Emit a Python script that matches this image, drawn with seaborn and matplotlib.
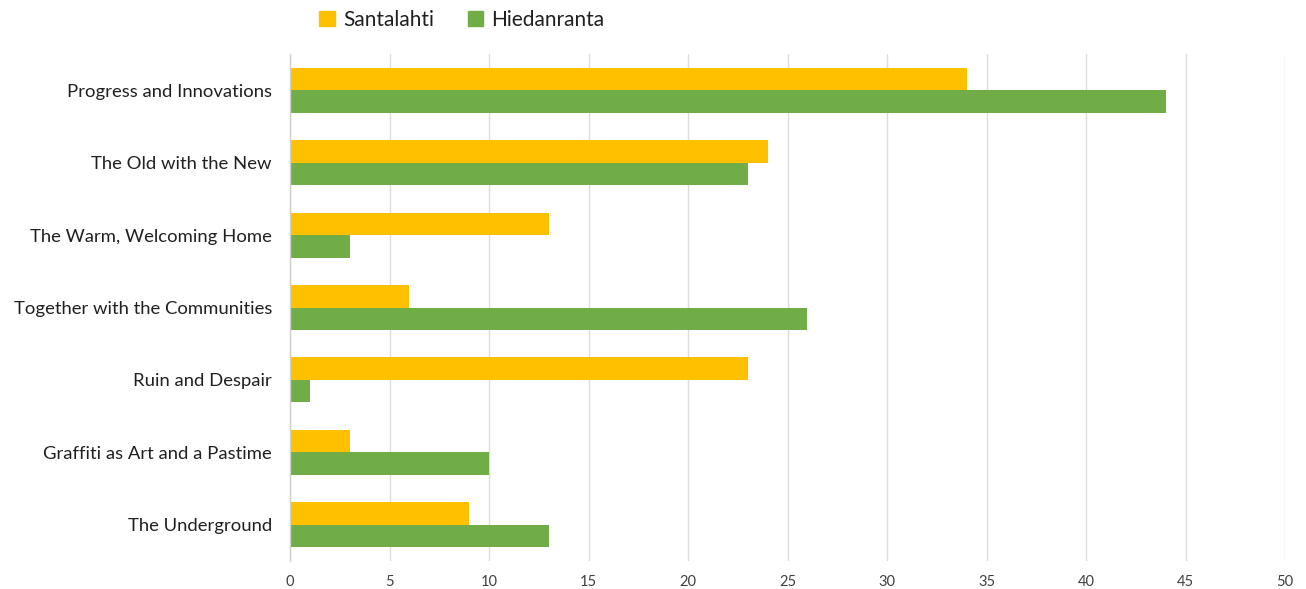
import matplotlib
matplotlib.use("Agg")
import matplotlib.pyplot as plt
import matplotlib.patches as mpatches
from matplotlib.ticker import FixedLocator
import seaborn as sns
import pandas as pd
import numpy as np

categories = ["Progress and Innovations", "The Old with the New", "The Warm, Welcoming Home",
              "Together with the Communities", "Ruin and Despair", "Graffiti as Art and a Pastime",
              "The Underground"]
santalahti = [34, 24, 13, 6, 23, 3, 9]
hiedanranta = [44, 23, 3, 26, 1, 10, 13]
series = ["Santalahti", "Hiedanranta"]
colors = ["#FFC000", "#70AD47"]
xticks = [0, 5, 10, 15, 20, 25, 30, 35, 40, 45, 50]

df = pd.DataFrame({
    "category": categories * 2,
    "value": santalahti + hiedanranta,
    "series": [series[0]] * len(categories) + [series[1]] * len(categories),
})

sns.set_theme(style="white")
plt.rcParams['font.family'] = ['Lato', 'DejaVu Sans']

fig = plt.figure(figsize=(13.06, 5.89), dpi=100)
ax = fig.add_axes([290/1306, 1 - 561/589, (1285-290)/1306, (561-54)/589])

sns.barplot(data=df, y="category", x="value", hue="series", order=categories,
            hue_order=series, palette=colors, orient="h", width=0.62, gap=0,
            saturation=1, ax=ax, legend=False, errorbar=None, linewidth=0)

ax.set_xlim(0, 50)
ax.set_ylim(len(categories) - 0.5, -0.5)
ax.set_xticks(xticks)
ax.set_xticklabels([str(t) for t in xticks], fontsize=10.5, color="#404040")
ax.set_yticks(range(len(categories)))
ax.set_yticklabels(categories, fontsize=13.3, color="#202020")
ax.set_xlabel("")
ax.set_ylabel("")
ax.grid(axis="x", color="#dcdcdc", linewidth=1.0)
ax.set_axisbelow(True)
for s in ["top", "right", "bottom"]:
    ax.spines[s].set_visible(False)
ax.spines["left"].set_color("#d0d0d0")
ax.spines["left"].set_linewidth(1.0)
ax.tick_params(axis="x", length=0, pad=10)
ax.tick_params(axis="y", which="major", length=0, pad=13)
ax.yaxis.set_minor_locator(FixedLocator(np.arange(-0.5, len(categories), 1.0)))
ax.tick_params(axis="y", which="minor", length=6, color="#d0d0d0", width=1.0, direction="out")

handles = [mpatches.Patch(color=c, label=s) for c, s in zip(colors, series)]
fig.legend(handles=handles, loc="center", bbox_to_anchor=(462/1306, 1 - 20/589), ncol=2,
           frameon=False, fontsize=15, handlelength=0.75, handleheight=0.75,
           handletextpad=0.4, columnspacing=1.6, labelcolor="#202020")

fig.savefig("out.png", dpi=100, facecolor="white")
